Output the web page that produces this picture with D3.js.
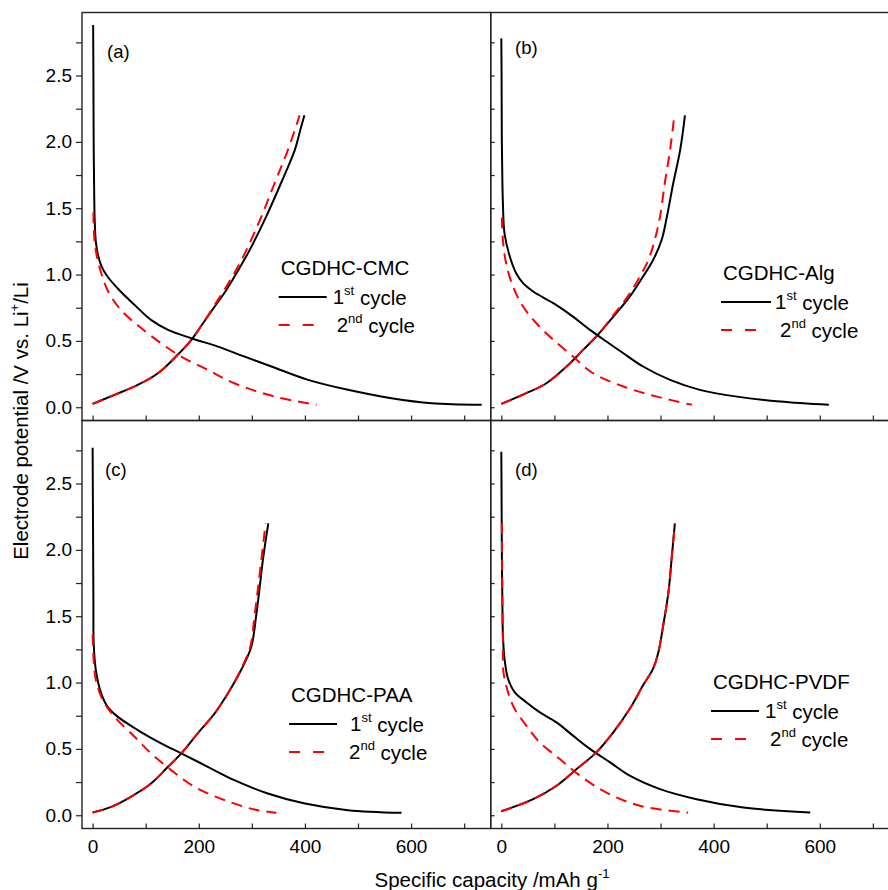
<!DOCTYPE html>
<html><head><meta charset="utf-8">
<script src="https://cdn.jsdelivr.net/npm/d3@7"></script>
<style>body{margin:0;background:#fff}svg{display:block}text{font-family:"Liberation Sans",Arial,sans-serif;fill:#000}</style>
</head><body><svg id="c" width="888" height="890"></svg>
<script>
// ---- data (capacity mAh/g, potential V) ----
const panelLabels = ["(a)","(b)","(c)","(d)"];
const binders = ["CGDHC-CMC","CGDHC-Alg","CGDHC-PAA","CGDHC-PVDF"];
const seriesNames = ["1st cycle","2nd cycle"];
const xTicks = [0,200,400,600];
const yTicks = [0,0.5,1.0,1.5,2.0,2.5];

// (a) CMC
const capA1dis = [1,1.5,2,3,4,6,10,17,28,50,82,110,142,186,236,286,337,406,481,563,639,733];
const potA1dis = [2.88,2.5,2.0,1.6,1.4,1.25,1.15,1.06,0.985,0.884,0.76,0.658,0.583,0.52,0.457,0.382,0.307,0.206,0.131,0.068,0.03,0.018];
const capA1chg = [0,41,85,123,157,186,208,230,252,271,296,327,355,381,392,399];
const potA1chg = [0.025,0.093,0.168,0.256,0.382,0.508,0.633,0.759,0.884,1.01,1.186,1.437,1.69,1.94,2.1,2.2];
const capA2dis = [1.5,4,12.6,28,53,88,129,167,217,267,343,422];
const potA2dis = [1.47,1.236,1.06,0.884,0.734,0.608,0.482,0.382,0.281,0.181,0.08,0.018];
const capA2chg = [0,41,85,123,157,186,208,228,248,267,290,318,343,368,390];
const potA2chg = [0.025,0.093,0.168,0.256,0.382,0.508,0.633,0.759,0.884,1.01,1.186,1.437,1.69,1.94,2.2];

// (b) Alg
const capB1dis = [0,0.5,1,2,3,6,16,28,41,60,98,135,167,198,230,267,318,374,444,525,617];
const potB1dis = [2.78,2.5,2.0,1.7,1.54,1.31,1.136,1.01,0.935,0.872,0.784,0.683,0.583,0.495,0.407,0.307,0.206,0.131,0.08,0.043,0.018];
const capB1chg = [0,47,85,123,154,179,211,242,267,286,302,312,324,337,346];
const potB1chg = [0.025,0.106,0.181,0.307,0.432,0.533,0.683,0.834,0.985,1.11,1.26,1.437,1.69,1.94,2.2];
const capB2dis = [1,3,9,22,41,66,98,135,173,230,293,359];
const potB2dis = [1.43,1.26,1.085,0.91,0.759,0.633,0.508,0.382,0.256,0.156,0.08,0.018];
const capB2chg = [0,47,85,123,154,179,209,238,261,277,289,299,308,318,326];
const potB2chg = [0.025,0.106,0.181,0.307,0.432,0.533,0.683,0.834,0.985,1.11,1.26,1.437,1.69,1.94,2.2];

// (c) PAA
const capC1dis = [0,0.5,1,1.5,2,6,16,28,47,85,129,167,217,267,330,400,481,582];
const potC1dis = [2.77,2.4,2.0,1.6,1.3,1.096,0.92,0.819,0.743,0.642,0.542,0.466,0.365,0.264,0.164,0.088,0.038,0.018];
const capC1chg = [0,35,72,110,142,167,198,230,255,280,299,308,315,321,331];
const potC1chg = [0.02,0.063,0.139,0.239,0.365,0.466,0.617,0.768,0.919,1.096,1.27,1.5,1.725,1.93,2.2];
const capC2dis = [0,2,6,19,41,79,110,148,192,249,305,346];
const potC2dis = [1.36,1.17,1.02,0.869,0.743,0.592,0.466,0.34,0.214,0.113,0.043,0.018];
const capC2chg = [0,35,72,110,142,167,198,230,255,279,297,305,312,318,326];
const potC2chg = [0.02,0.063,0.139,0.239,0.365,0.466,0.617,0.768,0.919,1.096,1.27,1.5,1.725,1.93,2.2];

// (d) PVDF
const capD1dis = [0,0.5,1,2,3,6,12.6,25,47,72,104,135,167,205,242,299,368,456,582];
const potD1dis = [2.74,2.4,2.0,1.6,1.36,1.18,1.03,0.928,0.852,0.777,0.7,0.6,0.5,0.398,0.298,0.197,0.121,0.058,0.02];
const capD1chg = [0,60,104,142,179,211,242,267,286,296,305,315,321,327];
const potD1chg = [0.03,0.121,0.222,0.348,0.474,0.625,0.802,0.979,1.105,1.23,1.43,1.685,1.94,2.2];
const capD2dis = [1,1.5,2,3,4,12.6,25,47,72,110,148,198,261,352];
const potD2dis = [2.2,1.9,1.6,1.3,1.08,0.928,0.802,0.676,0.55,0.424,0.298,0.171,0.071,0.02];
const capD2chg = [0,60,104,142,179,211,242,267,286,296,305,315,321,327];
const potD2chg = [0.03,0.121,0.222,0.348,0.474,0.625,0.802,0.979,1.105,1.23,1.43,1.685,1.94,2.2];

const zipXY = (xs, ys) => xs.map((x,i)=>[x, ys[i]]);
const panelsData = [
  {first:[zipXY(capA1dis,potA1dis),zipXY(capA1chg,potA1chg)], second:[zipXY(capA2dis,potA2dis),zipXY(capA2chg,potA2chg)]},
  {first:[zipXY(capB1dis,potB1dis),zipXY(capB1chg,potB1chg)], second:[zipXY(capB2dis,potB2dis),zipXY(capB2chg,potB2chg)]},
  {first:[zipXY(capC1dis,potC1dis),zipXY(capC1chg,potC1chg)], second:[zipXY(capC2dis,potC2dis),zipXY(capC2chg,potC2chg)]},
  {first:[zipXY(capD1dis,potD1dis),zipXY(capD1chg,potD1chg)], second:[zipXY(capD2dis,potD2dis),zipXY(capD2chg,potD2chg)]}
];

// ---- layout ----
const svg = d3.select("#c");
const colX = [82, 490.7], colW = 408.7;
const rowY = [12.5, 420.5], rowH = 408;
const legendPos = [[278.7,268],[721,273],[289,695],[711,682]];
const labelPos = [[107,52],[515,48],[105,470],[515,470]];
const axisColor = "#222";

panelsData.forEach((pd, i) => {
  const col = i % 2, row = Math.floor(i/2);
  const x = d3.scaleLinear().domain([-20, 750]).range([colX[col], colX[col]+colW]);
  const y = d3.scaleLinear().domain([-0.1, 2.975]).range([rowY[row]+rowH, rowY[row]]);
  const g = svg.append("g");

  const cid = "clip"+i;
  svg.append("clipPath").attr("id",cid).append("rect")
    .attr("x",colX[col]).attr("y",rowY[row]).attr("width",colW).attr("height",rowH);

  const line = d3.line().x(d=>x(d[0])).y(d=>y(d[1])).curve(d3.curveCatmullRom.alpha(0.5));
  const curves = g.append("g").attr("clip-path",`url(#${cid})`);
  pd.first.forEach(s => curves.append("path").attr("d", line(s)).attr("fill","none")
      .attr("stroke","#000").attr("stroke-width",2));
  pd.second.forEach(s => curves.append("path").attr("d", line(s)).attr("fill","none")
      .attr("stroke","#ff0000").attr("stroke-width",2).attr("stroke-dasharray","11,7"));

  const xa = g.append("g").attr("transform",`translate(0,${rowY[row]+rowH})`)
    .call(d3.axisBottom(x).tickValues([0,100,200,300,400,500,600,700]).tickSize(-5)
      .tickFormat(row===1 ? (d => xTicks.includes(d) ? d : "") : ""));
  xa.select(".domain").remove();
  xa.selectAll(".tick line").attr("stroke",axisColor).attr("stroke-width",1.2);
  xa.selectAll(".tick text").attr("font-size",19).attr("dy","1.15em").style("font-family","'Liberation Sans',Arial,sans-serif");

  const ya = g.append("g").attr("transform",`translate(${colX[col]},0)`)
    .call(d3.axisLeft(y).tickValues(d3.range(0,2.76,0.25)).tickSize(col===0 ? 6 : -4)
      .tickFormat(col===0 ? (d => yTicks.some(t=>Math.abs(t-d)<1e-6) ? d3.format(".1f")(d) : "") : ""));
  ya.select(".domain").remove();
  ya.selectAll(".tick line").attr("stroke",axisColor).attr("stroke-width",1.2);
  ya.selectAll(".tick text").attr("font-size",19).attr("x",-10).style("font-family","'Liberation Sans',Arial,sans-serif");

  g.append("rect").attr("x",colX[col]).attr("y",rowY[row]).attr("width",colW).attr("height",rowH)
    .attr("fill","none").attr("stroke",axisColor).attr("stroke-width",1.4);

  g.append("text").attr("x",labelPos[i][0]).attr("y",labelPos[i][1]).attr("dy","0.35em")
    .attr("font-size",18.5).text(panelLabels[i]);

  const [lx, ly] = legendPos[i];
  const lg = g.append("g");
  lg.append("text").attr("x",lx+2).attr("y",ly).attr("dy","0.36em").attr("font-size",20.5).text(binders[i]);
  const lineLen = [48,50,48,48][i], dashLen = 36;
  lg.append("line").attr("x1",lx).attr("x2",lx+lineLen).attr("y1",ly+29).attr("y2",ly+29)
    .attr("stroke","#000").attr("stroke-width",2);
  lg.append("line").attr("x1",lx).attr("x2",lx+dashLen).attr("y1",ly+57).attr("y2",ly+57)
    .attr("stroke","#ff0000").attr("stroke-width",2).attr("stroke-dasharray","11,13");
  const sups = ["st","nd"], nums = ["1","2"];
  const tx1 = [lx+54, lx+54, lx+61, lx+54][i], tx2 = [lx+58, lx+59, lx+60, lx+59][i];
  [[tx1, ly+29],[tx2, ly+57]].forEach((p, k) => {
    const t = lg.append("text").attr("x",p[0]).attr("y",p[1]).attr("dy","0.36em").attr("font-size",20.5);
    t.append("tspan").text(nums[k]);
    t.append("tspan").attr("font-size",13).attr("dy","-0.75em").text(sups[k]);
    t.append("tspan").attr("dy","0.52em").text(" " + seriesNames[k].split(" ")[1]);
  });
});

const yt = svg.append("text").attr("transform","translate(28,421) rotate(-90)")
  .attr("text-anchor","middle").attr("font-size",20.5);
yt.append("tspan").text("Electrode potential /V vs. Li");
yt.append("tspan").attr("font-size",13).attr("dy","-0.7em").text("+");
yt.append("tspan").attr("dy","0.45em").text("/Li");

const xt = svg.append("text").attr("x",492).attr("y",887).attr("text-anchor","middle").attr("font-size",20.5);
xt.append("tspan").text("Specific capacity /mAh g");
xt.append("tspan").attr("font-size",13).attr("dy","-0.7em").text("-1");
</script></body></html>
